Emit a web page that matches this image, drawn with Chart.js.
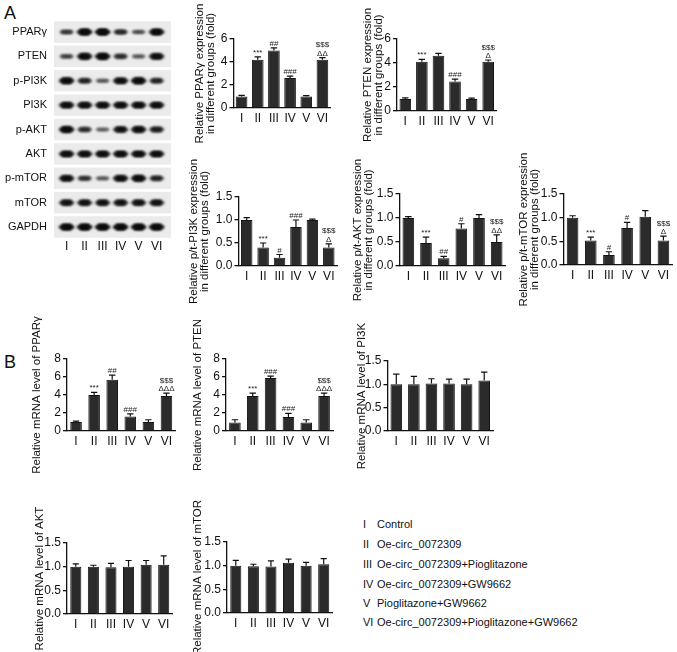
<!DOCTYPE html>
<html><head><meta charset="utf-8">
<script src="https://cdn.jsdelivr.net/npm/chart.js@4.4.1/dist/chart.umd.min.js"></script>
<style>
html,body{margin:0;padding:0;background:#fff;}
body{width:677px;height:652px;position:relative;overflow:hidden;font-family:'Liberation Sans',Arial,sans-serif;color:#111;}
canvas{position:absolute;}
.plbl{position:absolute;font-size:18px;line-height:18px;color:#111;}
.leg{position:absolute;font-size:11px;line-height:13px;color:#111;white-space:nowrap;}
</style></head><body>
<div class="plbl" style="left:4px;top:4px">A</div>
<div class="plbl" style="left:4px;top:353px">B</div>
<script>
// ---------- data ----------
const groups = ['I','II','III','IV','V','VI'];
const groupNames = ['Control','Oe-circ_0072309','Oe-circ_0072309+Pioglitazone','Oe-circ_0072309+GW9662','Pioglitazone+GW9662','Oe-circ_0072309+Pioglitazone+GW9662'];

// western blot rows and band darkness (0-1) per lane
const blotRows = ['PPARγ','PTEN','p-PI3K','PI3K','p-AKT','AKT','p-mTOR','mTOR','GAPDH'];
const bandPPARg = [0.45,0.95,0.97,0.55,0.32,0.9];
const bandPTEN  = [0.4,0.9,0.97,0.55,0.3,0.85];
const bandPPI3K = [0.9,0.62,0.3,0.85,0.95,0.62];
const bandPI3K  = [0.85,0.85,0.85,0.85,0.85,0.85];
const bandPAKT  = [0.92,0.55,0.25,0.82,0.88,0.68];
const bandAKT   = [0.85,0.85,0.85,0.85,0.85,0.85];
const bandPmTOR = [0.85,0.5,0.3,0.87,0.9,0.62];
const bandmTOR  = [0.8,0.8,0.8,0.8,0.8,0.8];
const bandGAPDH = [0.95,0.95,0.95,0.95,0.95,0.95];

// A: protein quantification
const pparProt = [1.0,4.2,5.0,2.6,1.0,4.2];
const pparProtErr = [0.1,0.25,0.22,0.18,0.08,0.18];
const pparProtSig = [[],['***'],['##'],['###'],[],['$$$','ΔΔ']];

const ptenProt = [1.0,4.1,4.6,2.45,1.0,4.1];
const ptenProtErr = [0.1,0.2,0.2,0.2,0.08,0.15];
const ptenProtSig = [[],['***'],[],['###'],[],['$$$','Δ']];

const pi3kRatio = [1.0,0.4,0.18,0.85,1.0,0.4];
const pi3kRatioErr = [0.05,0.1,0.07,0.15,0.02,0.08];
const pi3kRatioSig = [[],['***'],['#'],['###'],[],['$$$','Δ']];

const aktRatio = [1.0,0.48,0.16,0.78,1.0,0.5];
const aktRatioErr = [0.03,0.12,0.04,0.1,0.07,0.15];
const aktRatioSig = [[],['***'],['##'],['#'],[],['$$$','ΔΔ']];

const mtorRatio = [1.0,0.52,0.21,0.78,1.02,0.52];
const mtorRatioErr = [0.04,0.07,0.07,0.12,0.13,0.09];
const mtorRatioSig = [[],['***'],['#'],['#'],[],['$$$','Δ']];

// B: mRNA levels
const pparMrna = [1.0,4.0,5.7,1.6,1.0,3.9];
const pparMrnaErr = [0.1,0.3,0.5,0.3,0.25,0.3];
const pparMrnaSig = [[],['***'],['##'],['###'],[],['$$$','ΔΔΔ']];

const ptenMrna = [0.95,3.9,5.9,1.55,0.95,3.9];
const ptenMrnaErr = [0.3,0.3,0.2,0.4,0.3,0.3];
const ptenMrnaSig = [[],['***'],['###'],['###'],[],['$$$','ΔΔΔ']];

const pi3kMrna = [1.0,1.0,1.02,1.02,1.0,1.08];
const pi3kMrnaErr = [0.22,0.17,0.1,0.09,0.11,0.18];
const aktMrna = [1.0,1.0,0.99,1.0,1.04,1.04];
const aktMrnaErr = [0.06,0.03,0.08,0.13,0.09,0.19];
const mtorMrna = [1.0,0.99,0.98,1.06,1.0,1.03];
const mtorMrnaErr = [0.11,0.04,0.12,0.08,0.07,0.12];
const noSig = [[],[],[],[],[],[]];

// y tick labels
const ticksFold6 = [0,2,4,6];
const ticksFold8 = [0,2,4,6,8];
const ticksRatio = [0,0.5,1.0,1.5];

// ---------- drawing ----------
Chart.defaults.font.family = "'Liberation Sans', Arial, sans-serif";
Chart.defaults.color = '#111';
const TITLE_SIZE = 11.5;
const INK = '#111';

const errPlugin = {
  id:'errs',
  afterDatasetsDraw(chart){
    const ctx = chart.ctx, ds = chart.data.datasets[0], meta = chart.getDatasetMeta(0), ys = chart.scales.y;
    ctx.save();
    ctx.strokeStyle = INK; ctx.lineWidth = 1.2;
    meta.data.forEach((bar,i)=>{
      const v = ds.data[i], e = ds.errs[i];
      const yTop = ys.getPixelForValue(v+e), yBar = ys.getPixelForValue(v);
      const cw = bar.width*0.55;
      ctx.beginPath();
      ctx.moveTo(bar.x,yBar); ctx.lineTo(bar.x,yTop);
      ctx.moveTo(bar.x-cw/2,yTop); ctx.lineTo(bar.x+cw/2,yTop);
      ctx.stroke();
      const s = ds.sigs[i] || [];
      ctx.fillStyle = '#222';
      ctx.font = "8px 'Liberation Sans', Arial, sans-serif";
      ctx.textAlign = 'center'; ctx.textBaseline = 'alphabetic';
      let y = yTop - 2;
      for (let k = s.length-1; k >= 0; k--) { ctx.fillText(s[k], bar.x, y); y -= 8.5; }
    });
    ctx.restore();
  }
};

function barPanel(geo, values, errs, sigs, tickVals, decimals, title, barPct){
  const padTop = 50, padBottom = 50, padRight = 4;
  const cl = Math.floor(geo.titleX - TITLE_SIZE/2);
  const ct = Math.floor(geo.top - padTop);
  const w = Math.ceil(geo.right + padRight - cl);
  const h = Math.ceil(geo.bottom + padBottom - ct);
  const c = document.createElement('canvas');
  c.width = w; c.height = h;
  c.style.left = cl+'px'; c.style.top = ct+'px';
  document.body.appendChild(c);
  const topPad = geo.top - ct, rightPad = w - (geo.right - cl), bottomH = h - (geo.bottom - ct), yW = geo.left - cl;
  new Chart(c, {
    type:'bar',
    data:{labels:groups, datasets:[{data:values, errs, sigs, backgroundColor:'#2b2b2b', borderColor:'#151515', borderWidth:1, barPercentage:barPct, categoryPercentage:1}]},
    options:{
      responsive:false, animation:false, devicePixelRatio:1,
      layout:{padding:{top:topPad, right:rightPad, left:0, bottom:0}},
      plugins:{legend:{display:false}, tooltip:{enabled:false}},
      scales:{
        x:{grid:{display:false, drawTicks:false}, border:{display:true,color:INK,width:1.3},
           ticks:{color:INK,font:{size:12},padding:3,maxRotation:0,autoSkip:false},
           afterFit(s){ s.height = bottomH; }},
        y:{min:0, max:tickVals[tickVals.length-1],
           afterBuildTicks(s){ s.ticks = tickVals.map(v=>({value:v})); },
           ticks:{color:INK,font:{size:12},padding:2,callback:(v)=>Number(v).toFixed(decimals)},
           grid:{drawOnChartArea:false, drawTicks:true, tickLength:4, color:INK, lineWidth:1.3},
           border:{display:true,color:INK,width:1.3},
           title:{display:true,text:title,color:INK,font:{size:TITLE_SIZE,lineHeight:1},padding:0},
           afterFit(s){ s.width = yW; }}
      }
    },
    plugins:[errPlugin]
  });
}

// ---- blot ----
const bandCache = {};
function bandImage(v){
  const key = v.toFixed(2);
  if (bandCache[key]) return bandCache[key];
  const w = 24, h = 16;
  const cv = document.createElement('canvas'); cv.width = w; cv.height = h;
  const g = cv.getContext('2d');
  g.filter = 'blur(1px)';
  const bh = 2.4 + 4.4*v, bw = 14 + 2*v;
  g.fillStyle = 'rgba(10,10,10,' + (0.25 + 0.75*v).toFixed(2) + ')';
  g.beginPath();
  g.ellipse(w/2, h/2, bw/2, bh/2, 0, 0, Math.PI*2);
  g.fill();
  g.fillRect(w/2 - bw/2 + bh/2, h/2 - bh/2, bw - bh, bh);
  bandCache[key] = cv;
  return cv;
}
const blotBands = [bandPPARg,bandPTEN,bandPPI3K,bandPI3K,bandPAKT,bandAKT,bandPmTOR,bandmTOR,bandGAPDH];
const stripPlugin = {
  id:'strips',
  beforeDatasetsDraw(chart){
    const ctx = chart.ctx, xs = chart.scales.x, ys = chart.scales.y;
    ctx.save();
    blotRows.forEach((r,i)=>{
      const y0 = ys.getPixelForValue(i+1-0.44), y1 = ys.getPixelForValue(i+1+0.44);
      ctx.fillStyle = '#ebebeb';
      ctx.fillRect(xs.left, Math.min(y0,y1), xs.right - xs.left, Math.abs(y1-y0));
    });
    ctx.restore();
  }
};
(function(){
  const area = {left:54, right:173.7, top:19.8, bottom:239.2};
  const W = 180, H = 258;
  const c = document.createElement('canvas');
  c.width = W; c.height = H; c.style.left = '0px'; c.style.top = '0px';
  document.body.appendChild(c);
  const pts = [];
  blotBands.forEach((row,r)=> row.forEach((v,l)=> pts.push({x:l+1, y:r+1, v})));
  new Chart(c, {
    type:'scatter',
    data:{datasets:[{data:pts, pointStyle:(ctx)=>bandImage(ctx.raw.v), pointRadius:8}]},
    options:{
      responsive:false, animation:false, devicePixelRatio:1,
      layout:{padding:{top:area.top, right:W-area.right, left:0, bottom:0}},
      plugins:{legend:{display:false}, tooltip:{enabled:false}},
      scales:{
        x:{type:'linear', min:0.3, max:6.8,
           afterBuildTicks(s){ s.ticks = groups.map((g,i)=>({value:i+1})); },
           ticks:{color:INK,font:{size:12},padding:0,callback:(v)=>groups[v-1]||''},
           grid:{display:false, drawTicks:false}, border:{display:false},
           afterFit(s){ s.height = H - area.bottom; }},
        y:{type:'linear', min:0.5, max:9.5, reverse:true,
           afterBuildTicks(s){ s.ticks = blotRows.map((g,i)=>({value:i+1})); },
           ticks:{color:INK,font:{size:11},padding:7,callback:(v)=>blotRows[v-1]||''},
           grid:{display:false, drawTicks:false}, border:{display:false},
           afterFit(s){ s.width = area.left; }}
      }
    },
    plugins:[stripPlugin]
  });
})();

// ---- bar panels ----
barPanel({left:233.5,right:330.5,top:39,bottom:108,titleX:200}, pparProt, pparProtErr, pparProtSig, ticksFold6, 0, ['Relative PPARγ expression','in different groups (fold)'], 0.72);
barPanel({left:397,right:496.5,top:39,bottom:111,titleX:368}, ptenProt, ptenProtErr, ptenProtSig, ticksFold6, 0, ['Relative PTEN expression','in different groups (fold)'], 0.7);
barPanel({left:238.5,right:337,top:197,bottom:266,titleX:194}, pi3kRatio, pi3kRatioErr, pi3kRatioSig, ticksRatio, 1, ['Relative p/t-PI3K expression','in different groups (fold)'], 0.7);
barPanel({left:399.5,right:505.5,top:194,bottom:266,titleX:358}, aktRatio, aktRatioErr, aktRatioSig, ticksRatio, 1, ['Relative p/t-AKT expression','in different groups (fold)'], 0.66);
barPanel({left:563.5,right:672.5,top:194,bottom:265,titleX:524}, mtorRatio, mtorRatioErr, mtorRatioSig, ticksRatio, 1, ['Relative p/t-mTOR expression','in different groups (fold)'], 0.64);

barPanel({left:67,right:175.5,top:359,bottom:431,titleX:37}, pparMrna, pparMrnaErr, pparMrnaSig, ticksFold8, 0, 'Relative mRNA level of PPARγ', 0.64);
barPanel({left:226,right:333,top:359,bottom:431,titleX:198}, ptenMrna, ptenMrnaErr, ptenMrnaSig, ticksFold8, 0, 'Relative mRNA level of PTEN', 0.65);
barPanel({left:387.5,right:493,top:361,bottom:431,titleX:362}, pi3kMrna, pi3kMrnaErr, noSig, ticksRatio, 1, 'Relative mRNA level of PI3K', 0.66);
barPanel({left:67,right:172.5,top:543,bottom:614,titleX:40}, aktMrna, aktMrnaErr, noSig, ticksRatio, 1, 'Relative mRNA level of AKT', 0.63);
barPanel({left:227,right:332.5,top:542,bottom:613,titleX:198}, mtorMrna, mtorMrnaErr, noSig, ticksRatio, 1, 'Relative mRNA level of mTOR', 0.63);

// ---- legend ----
const legendY = [525,545,565,585,604,623];
groups.forEach((g,i)=>{
  const a = document.createElement('div'); a.className='leg'; a.textContent = g;
  a.style.left = '363px'; a.style.top = (legendY[i]-7)+'px';
  const b = document.createElement('div'); b.className='leg'; b.textContent = groupNames[i];
  b.style.left = '377px'; b.style.top = (legendY[i]-7)+'px';
  document.body.appendChild(a); document.body.appendChild(b);
});
</script>
</body></html>
